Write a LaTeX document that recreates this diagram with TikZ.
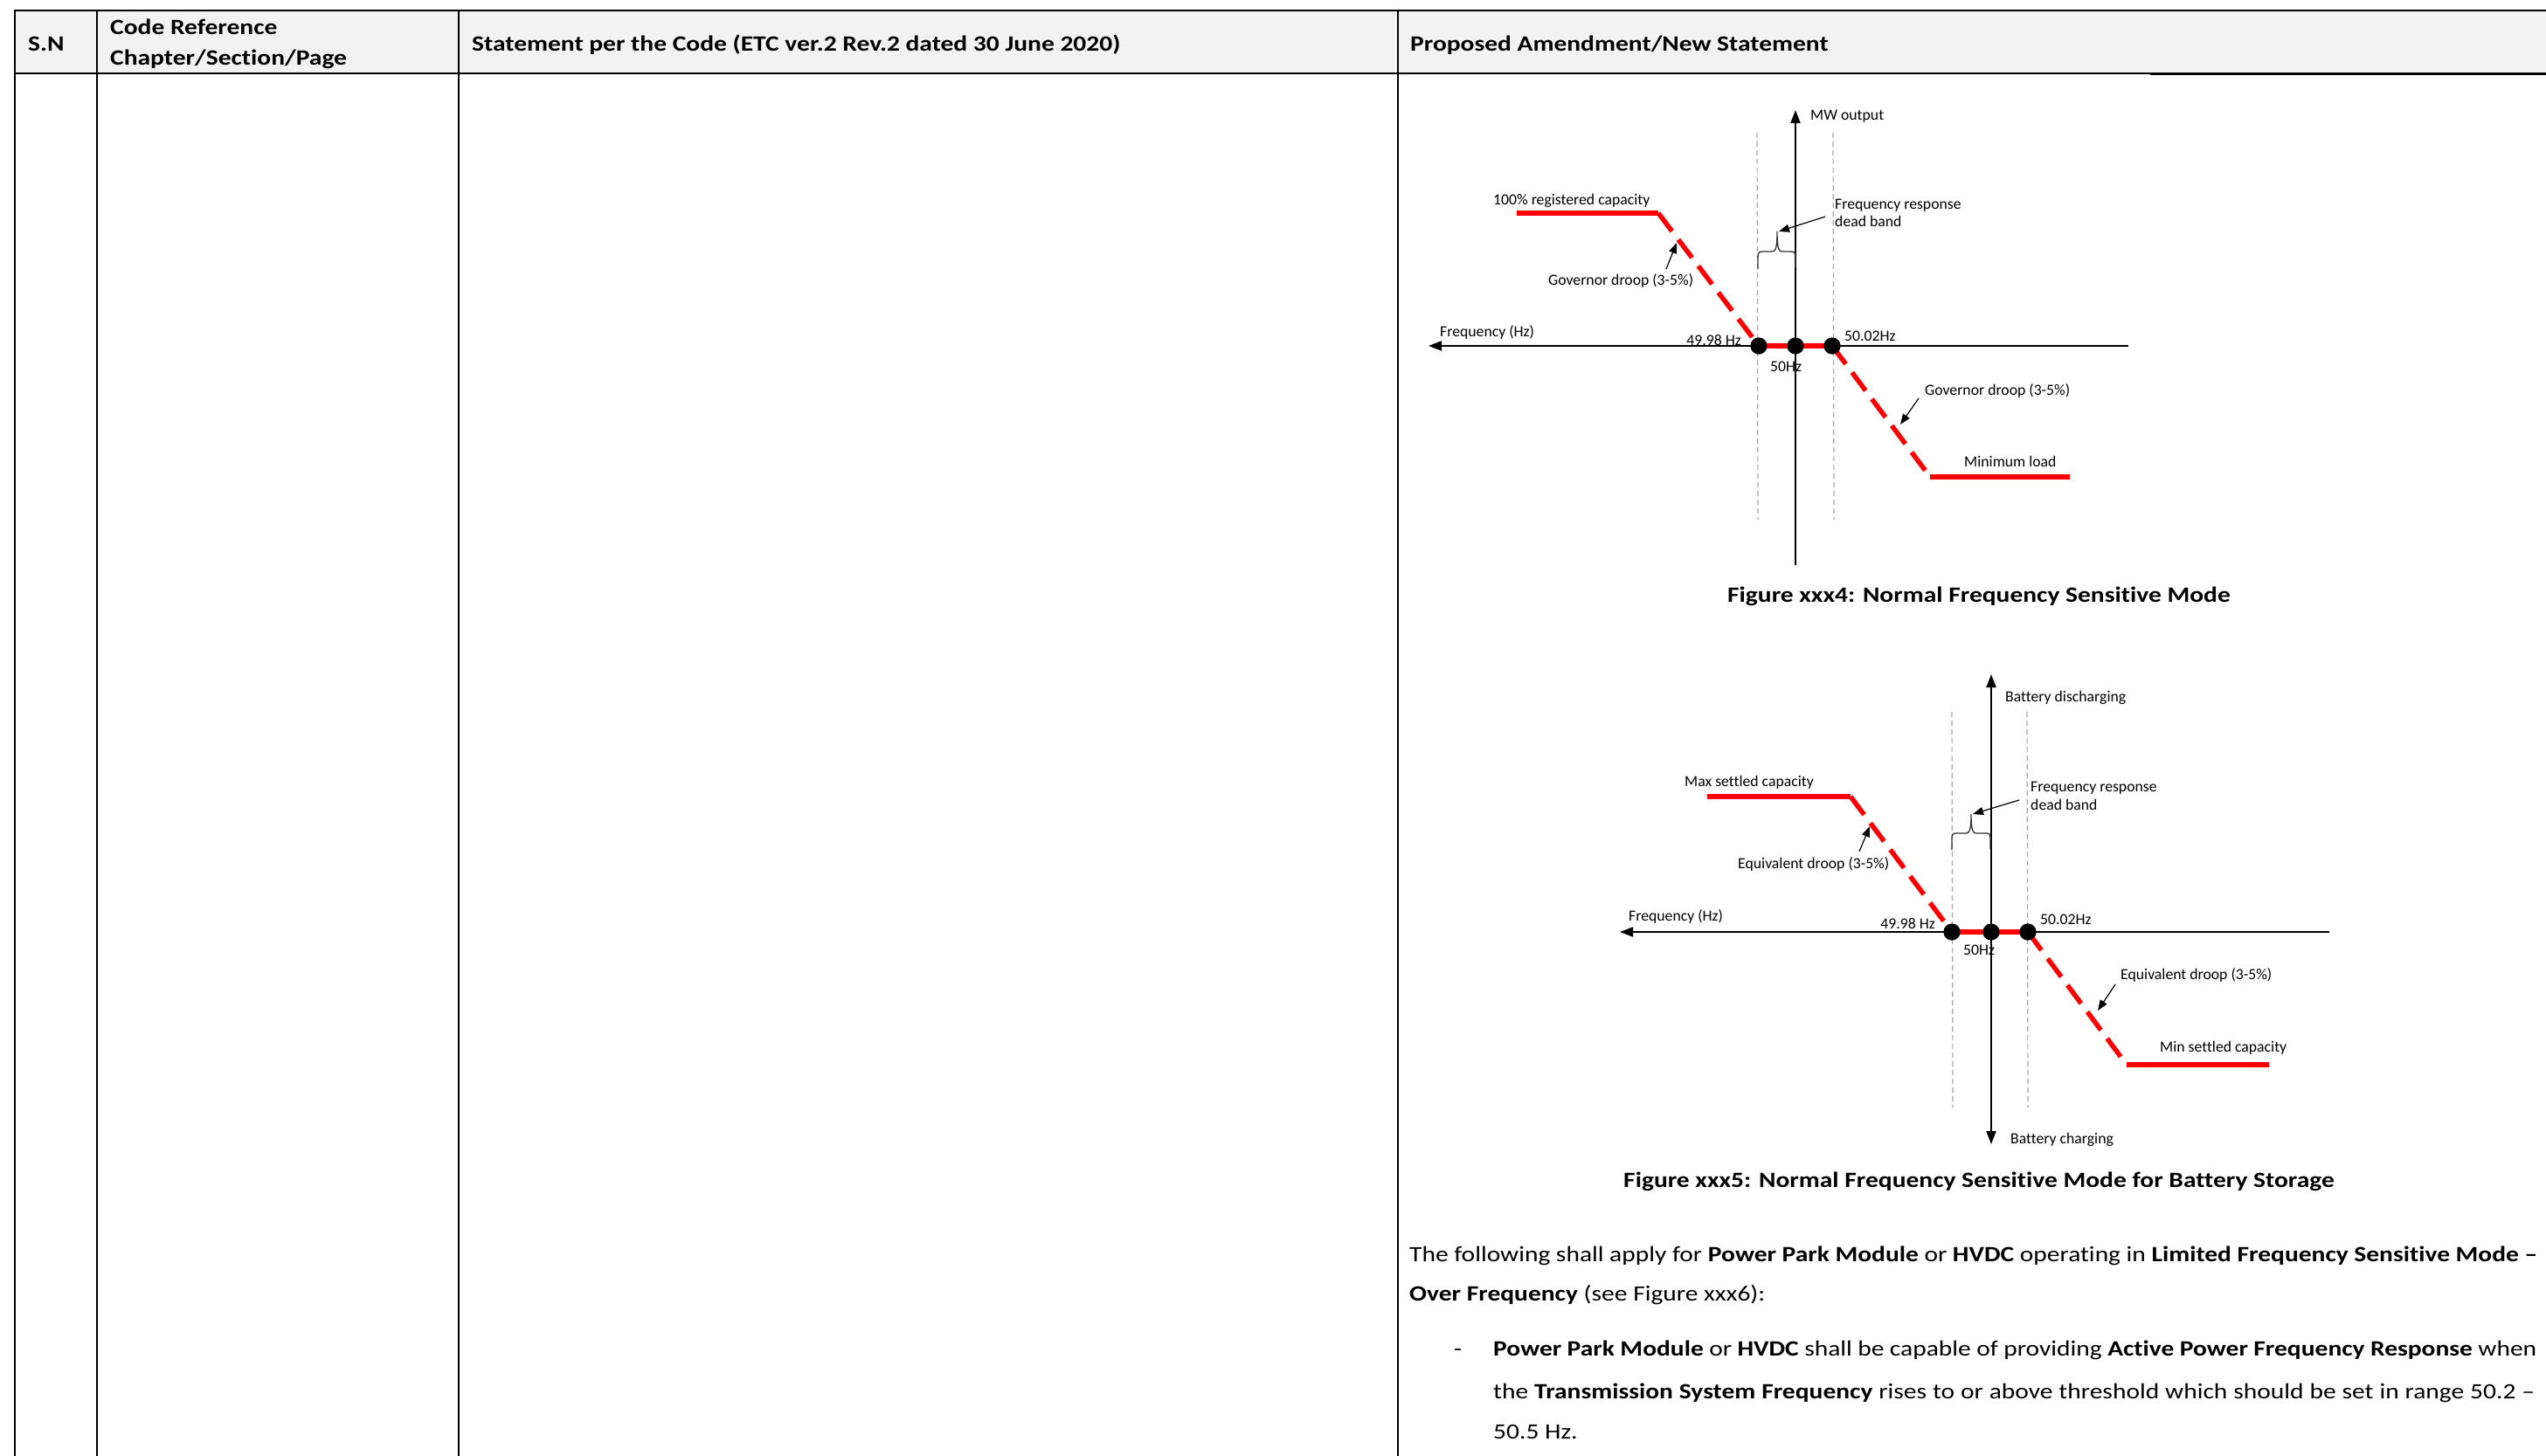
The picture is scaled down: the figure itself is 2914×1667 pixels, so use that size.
\documentclass[tikz,border=0pt]{standalone}
\usepackage{fontspec}
\setmainfont{Carlito}[FakeStretch=1.18,Ligatures=NoCommon]
\newfontfamily\figfamily{Carlito}[Ligatures=NoCommon]
\usetikzlibrary{arrows.meta}
\definecolor{hdrgray}{HTML}{F2F2F2}
\definecolor{guidegray}{HTML}{A6A6A6}
\definecolor{plotred}{HTML}{FF0000}
\newcommand\figsz{\figfamily\fontsize{17.7}{20}\selectfont}
\newcommand\bodysz{\fontsize{25}{30}\selectfont}
\begin{document}
\begin{tikzpicture}[x=1pt,y=-1pt,
  tblline/.style={line width=2pt,black},
  axisarrow/.style={line width=2pt,black,-{Triangle[length=15pt,width=11pt]}},
  axisplain/.style={line width=2pt,black},
  guide/.style={guidegray,line width=1.2pt,dash pattern=on 6pt off 4pt},
  redsolid/.style={plotred,line width=5.5pt},
  reddash/.style={plotred,line width=5.5pt,dash pattern=on 26pt off 12pt},
  dotnode/.style={circle,fill=black,inner sep=0pt,minimum size=19pt},
  lbl/.style={font=\figsz,inner sep=0pt,anchor=base west},
  lble/.style={font=\figsz,inner sep=0pt,anchor=base east},
  callout/.style={line width=1.2pt,black,-{Triangle[length=12pt,width=9pt]}},
  bracepath/.style={line width=1.3pt,black!80},
  hdr/.style={font=\bodysz\bfseries,inner sep=0pt,anchor=base west},
  bodytxt/.style={font=\bodysz,inner sep=0pt,anchor=base west},
  captxt/.style={font=\bodysz\bfseries,inner sep=0pt,anchor=base},
]
\useasboundingbox (0,0) rectangle (2914,1667);
\fill[white] (0,0) rectangle (2914,1667);

% ---------------- table ----------------
\fill[hdrgray] (17,12.5) rectangle (2914,84);
\draw[tblline] (16,12.5) -- (2914,12.5);
\draw[tblline] (16,84) -- (1600,84);
\draw[line width=1.2pt] (1600,84) -- (2461,84);
\draw[line width=2.7pt] (2461,84.5) -- (2914,84.5);
\foreach \xx in {17,111,525,1600} {\draw[tblline] (\xx,11.5) -- (\xx,1667);}

\node[hdr] (hsn) at (32,59) {S.N};
\node[hdr] (hcr1) at (126,40) {Code Reference};
\node[hdr] (hcr2) at (126,75) {Chapter/Section/Page};
\node[hdr] (hst) at (540,59) {Statement per the Code (ETC ver.2 Rev.2 dated 30 June 2020)};
\node[hdr] (hpa) at (1614,59) {Proposed Amendment/New Statement};

% ---------------- figure xxx4 ----------------
\coordinate (a1top) at (2055,126);
\coordinate (a1bot) at (2055,647);
\coordinate (a1left) at (1635,396);
\coordinate (a1right) at (2436,396);
\draw[axisplain] (a1bot) -- (2055,140);
\draw[axisarrow] (2055,150) -- (a1top);
\draw[axisplain] (a1right) -- (1650,396);
\draw[axisarrow] (1660,396) -- (a1left);

\coordinate (g1at) at (2011,152); \coordinate (g1ab) at (2012,595);
\coordinate (g1bt) at (2098,152); \coordinate (g1bb) at (2099,595);
\draw[guide] (g1at) -- (g1ab);
\draw[guide] (g1bt) -- (g1bb);

\coordinate (r1a) at (1736,244);
\coordinate (r1b) at (1898,244);
\coordinate (r1e) at (2209,546);
\coordinate (r1f) at (2369,546);
\node[dotnode] (d1l) at (2013,396) {};
\node[dotnode] (d1m) at (2055,396) {};
\node[dotnode] (d1r) at (2097,396) {};
\draw[redsolid] (r1a) -- (r1b);
\draw[reddash] (r1b) -- (d1l.center);
\draw[redsolid] (d1l.center) -- (d1r.center);
\draw[reddash] (d1r.center) -- (r1e);
\draw[redsolid] (r1e) -- (r1f);
\node[dotnode] at (d1l) {};
\node[dotnode] at (d1m) {};
\node[dotnode] at (d1r) {};

% brace
\draw[bracepath] (2012,308) -- (2012,295) .. controls (2012,290) and (2013,288) .. (2017,288)
  -- (2028,288) .. controls (2032,288) and (2034,285) .. (2034,265)
  .. controls (2034,285) and (2036,288) .. (2040,288) -- (2050,288)
  .. controls (2054,288) and (2055,290) .. (2055,295) -- (2055,306);

\node[lbl] (mw) at (2072,138) {MW output};
\node[lbl] (cap1) at (1709,234) {100\% registered capacity};
\node[lbl] (frd1a) at (2100,239) {Frequency response};
\node[lbl] (frd1b) at (2100,259) {dead band};
\node[lbl] (gov1) at (1772,326) {Governor droop (3-5\%)};
\node[lbl] (fhz1) at (1648,385) {Frequency (Hz)};
\node[lble] (f4998a) at (1993,395) {49.98 Hz};
\node[lbl] (f5002a) at (2111,390) {50.02Hz};
\node[lbl] (f50a) at (2026,425) {50Hz};
\node[lbl] (gov1b) at (2203,452) {Governor droop (3-5\%)};
\node[lbl] (minl) at (2248,534) {Minimum load};

\coordinate (c1s) at (2089,248); \coordinate (c1t) at (2036,265);
\draw[callout] (c1s) -- (c1t);
\coordinate (c2s) at (1907,308); \coordinate (c2t) at (1919,278);
\draw[callout] (c2s) -- (c2t);
\coordinate (c3s) at (2196,456); \coordinate (c3t) at (2175,486);
\draw[callout] (c3s) -- (c3t);

\node[captxt] (cap4) at (2265,689) {Figure xxx4: Normal Frequency Sensitive Mode};

% ---------------- figure xxx5 ----------------
\coordinate (a2top) at (2279,772);
\coordinate (a2bot) at (2279,1310);
\coordinate (a2left) at (1854,1067);
\coordinate (a2right) at (2666,1067);
\draw[axisplain] (2279,1040) -- (2279,786);
\draw[axisarrow] (2279,796) -- (a2top);
\draw[axisplain] (2279,1040) -- (2279,1296);
\draw[axisarrow] (2279,1286) -- (a2bot);
\draw[axisplain] (a2right) -- (1869,1067);
\draw[axisarrow] (1879,1067) -- (a2left);

\coordinate (g2at) at (2234,815); \coordinate (g2ab) at (2235,1268);
\coordinate (g2bt) at (2320,815); \coordinate (g2bb) at (2321,1268);
\draw[guide] (g2at) -- (g2ab);
\draw[guide] (g2bt) -- (g2bb);

\coordinate (r2a) at (1954,912);
\coordinate (r2b) at (2118,912);
\coordinate (r2e) at (2434,1219);
\coordinate (r2f) at (2597,1219);
\node[dotnode] (d2l) at (2234,1067) {};
\node[dotnode] (d2m) at (2279,1067) {};
\node[dotnode] (d2r) at (2321,1067) {};
\draw[redsolid] (r2a) -- (r2b);
\draw[reddash] (r2b) -- (d2l.center);
\draw[redsolid] (d2l.center) -- (d2r.center);
\draw[reddash] (d2r.center) -- (r2e);
\draw[redsolid] (r2e) -- (r2f);
\node[dotnode] at (d2l) {};
\node[dotnode] at (d2m) {};
\node[dotnode] at (d2r) {};

\draw[bracepath] (2234,973) -- (2234,960) .. controls (2234,955) and (2235,954) .. (2239,954)
  -- (2250,954) .. controls (2254,954) and (2256,951) .. (2256,932)
  .. controls (2256,951) and (2258,954) .. (2262,954) -- (2273,954)
  .. controls (2277,954) and (2278,955) .. (2278,960) -- (2278,972);

\node[lbl] (bdis) at (2295,803) {Battery discharging};
\node[lbl] (maxs) at (1928,900) {Max settled capacity};
\node[lbl] (frd2a) at (2324,906) {Frequency response};
\node[lbl] (frd2b) at (2324,927) {dead band};
\node[lbl] (eqv1) at (1989,994) {Equivalent droop (3-5\%)};
\node[lbl] (fhz2) at (1864,1054) {Frequency (Hz)};
\node[lble] (f4998b) at (2215,1063) {49.98 Hz};
\node[lbl] (f5002b) at (2335,1058) {50.02Hz};
\node[lbl] (f50b) at (2247,1093) {50Hz};
\node[lbl] (eqv2) at (2427,1121) {Equivalent droop (3-5\%)};
\node[lbl] (mins) at (2472,1204) {Min settled capacity};
\node[lbl] (bchg) at (2301,1309) {Battery charging};

\coordinate (c4s) at (2311,916); \coordinate (c4t) at (2258,932);
\draw[callout] (c4s) -- (c4t);
\coordinate (c5s) at (2128,975); \coordinate (c5t) at (2140,946);
\draw[callout] (c5s) -- (c5t);
\coordinate (c6s) at (2421,1127); \coordinate (c6t) at (2401,1157);
\draw[callout] (c6s) -- (c6t);

\node[captxt] (cap5) at (2265,1359) {Figure xxx5: Normal Frequency Sensitive Mode for Battery Storage};

% ---------------- body text ----------------
\node[bodytxt] (p1) at (1613,1444) {\makebox[1291pt][s]{The following shall apply for \textbf{Power Park Module} or \textbf{HVDC} operating in \textbf{Limited Frequency Sensitive Mode –}}};
\node[bodytxt] (p2) at (1613,1489) {\textbf{Over Frequency} (see Figure xxx6):};
\node[bodytxt] (bul) at (1664,1552) {-};
\node[bodytxt] (p3) at (1709,1552) {\makebox[1194pt][s]{\textbf{Power Park Module} or \textbf{HVDC} shall be capable of providing \textbf{Active Power Frequency Response} when}};
\node[bodytxt] (p4) at (1709,1601) {\makebox[1192pt][s]{the \textbf{Transmission System Frequency} rises to or above threshold which should be set in range 50.2 –}};
\node[bodytxt] (p5) at (1709,1647) {50.5 Hz.};
\end{tikzpicture}
\end{document}
